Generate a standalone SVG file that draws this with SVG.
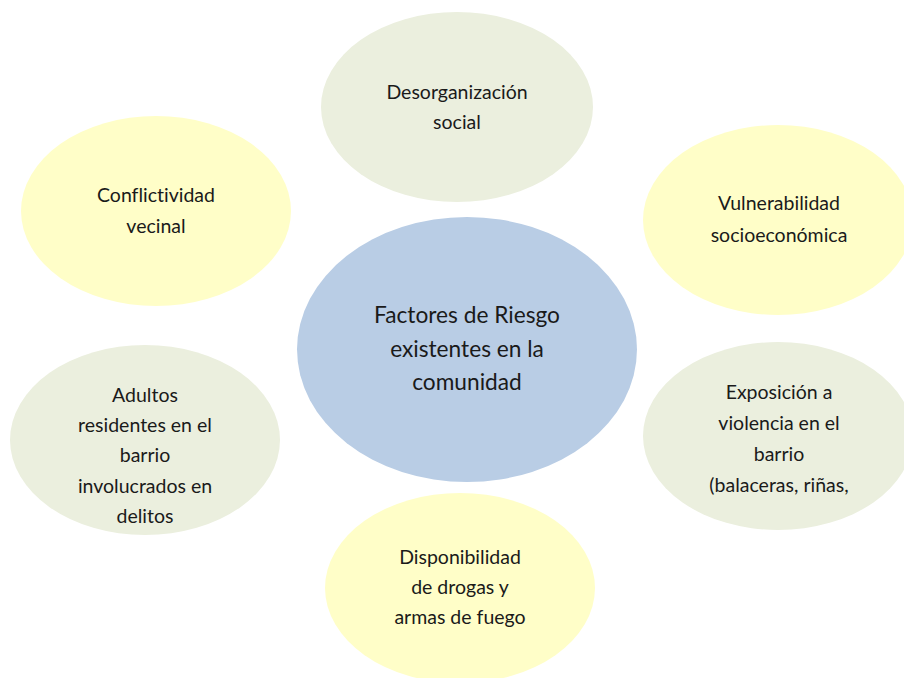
<svg xmlns="http://www.w3.org/2000/svg" width="904" height="678" viewBox="0 0 904 678">
<style>
.y{fill:#FFFEC8}
.g{fill:#EBEFDE}
.b{fill:#B9CDE5}
text{font-family:Lato,"Noto Sans",sans-serif;font-size:19.5px;fill:#1a1a1a;text-anchor:middle;font-variant-ligatures:none}
.c{font-size:22.7px}
</style>
<rect width="904" height="678" fill="#fff"/>
<g id="connectors"></g>
<g id="n-desorganizacion"><ellipse class="g" cx="457" cy="107" rx="136" ry="95"/><text x="457" y="99">Desorganización</text><text x="457" y="129">social</text></g>
<g id="n-conflictividad"><ellipse class="y" cx="156" cy="211" rx="135" ry="95"/><text x="156" y="202">Conflictividad</text><text x="156" y="233">vecinal</text></g>
<g id="n-vulnerabilidad"><ellipse class="y" cx="778" cy="220" rx="135" ry="95"/><text x="779" y="210">Vulnerabilidad</text><text x="779" y="242">socioeconómica</text></g>
<g id="n-centro"><ellipse class="b" cx="467" cy="349.5" rx="170" ry="132.5"/><text class="c" x="467" y="323">Factores de Riesgo</text><text class="c" x="467" y="357">existentes en la</text><text class="c" x="467" y="390">comunidad</text></g>
<g id="n-adultos"><ellipse class="g" cx="145" cy="440" rx="135" ry="95"/><text x="145" y="402">Adultos</text><text x="145" y="432">residentes en el</text><text x="145" y="462">barrio</text><text x="145" y="493">involucrados en</text><text x="145" y="523">delitos</text></g>
<g id="n-exposicion"><ellipse class="g" cx="778" cy="436" rx="135" ry="94"/><text x="779" y="399">Exposición a</text><text x="779" y="430">violencia en el</text><text x="779" y="461">barrio</text><text x="779" y="492">(balaceras, riñas,</text></g>
<g id="n-disponibilidad"><ellipse class="y" cx="460" cy="588" rx="135" ry="95"/><text x="460" y="564">Disponibilidad</text><text x="460" y="594">de drogas y</text><text x="460" y="624">armas de fuego</text></g>
</svg>
